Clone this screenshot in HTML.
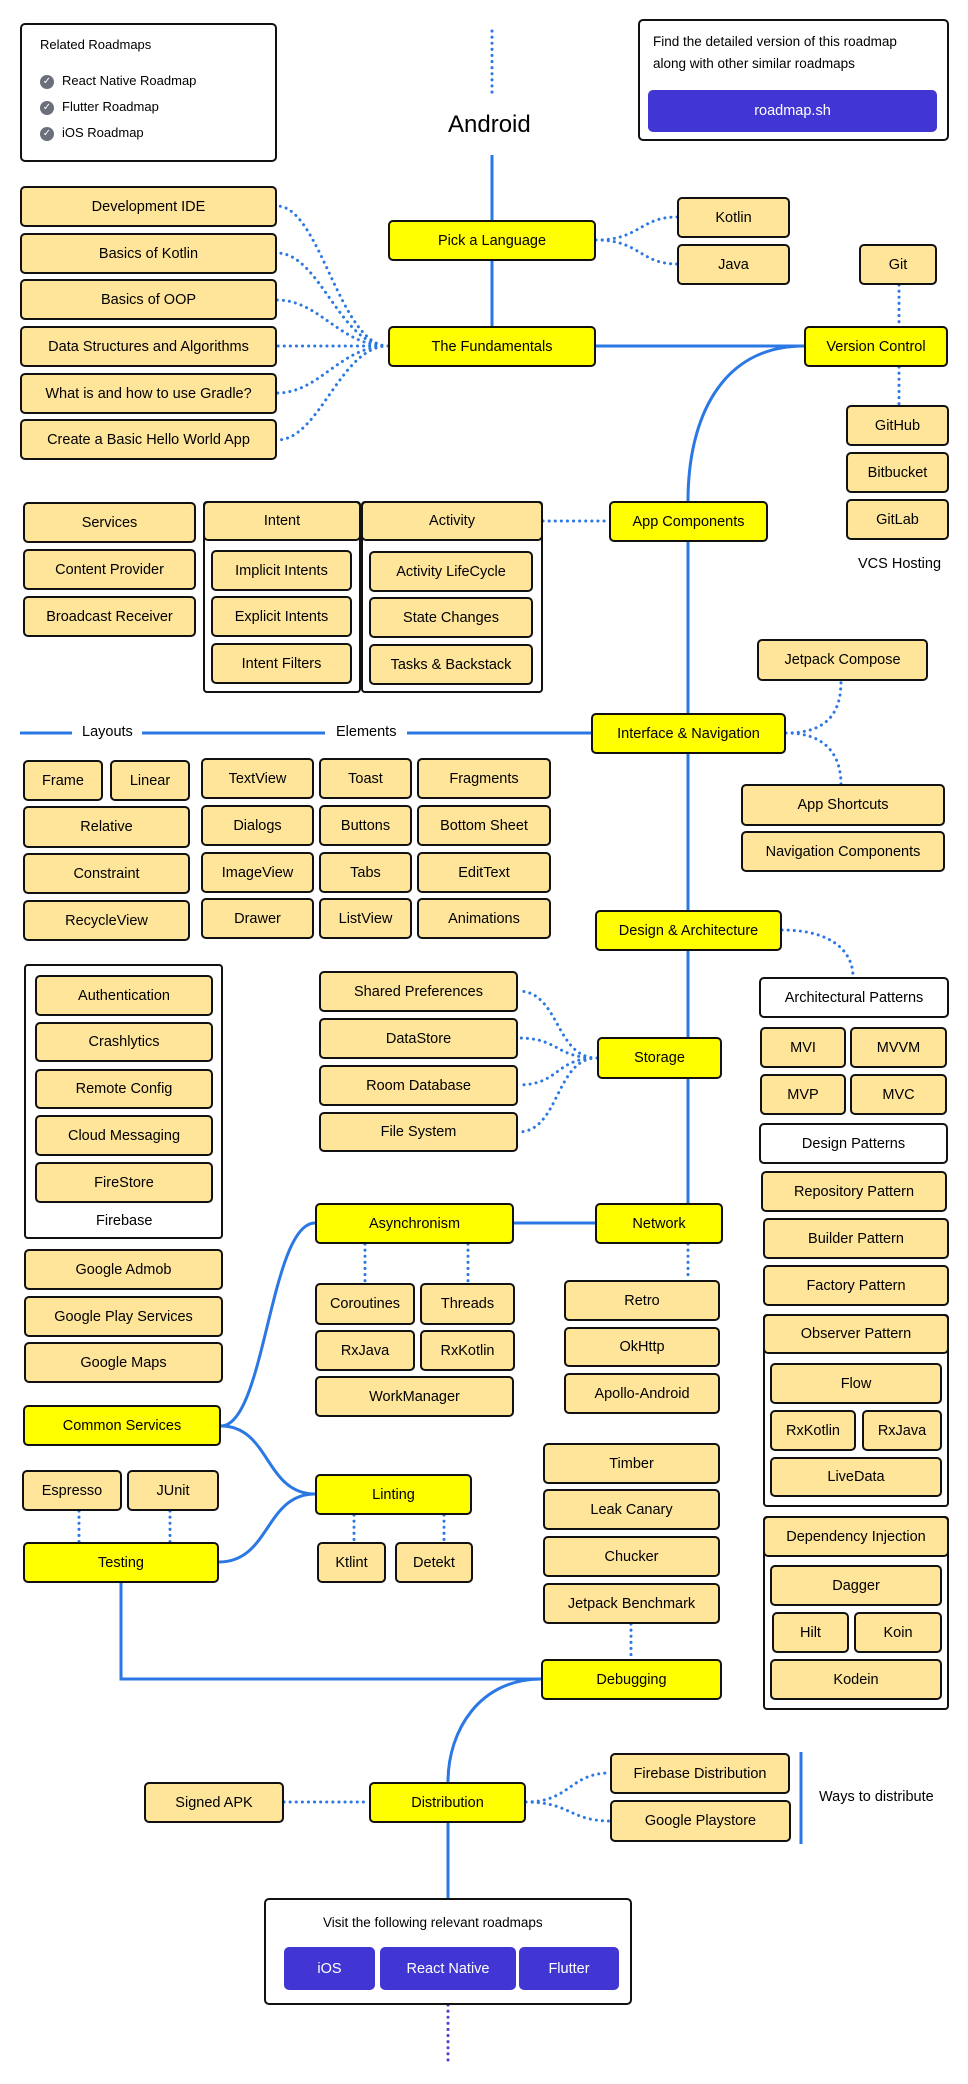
<!DOCTYPE html>
<html><head><meta charset="utf-8"><style>
body{margin:0;width:968px;height:2084px;position:relative;background:#fff;font-family:"Liberation Sans",sans-serif;overflow:hidden}
.b,.y,.w,.g{position:absolute;box-sizing:border-box;border:2px solid #111;border-radius:5px;display:flex;align-items:center;justify-content:center;font-size:14.5px;color:#000;text-align:center}
.b{background:#ffe599}.y{background:#ffff00}.w{background:#fff}
.g{background:transparent;border-radius:4px}
.t{position:absolute;font-size:14.5px;color:#000;white-space:nowrap}
.p{position:absolute;box-sizing:border-box;background:#4136d4;color:#fff;border-radius:5px;display:flex;align-items:center;justify-content:center;font-size:14.5px}
svg{position:absolute;left:0;top:0}
.ck{display:inline-block;width:14px;height:14px;border-radius:50%;background:#6b6f7a;color:#fff;font-size:10px;line-height:14px;text-align:center;vertical-align:middle;margin-right:8px}
</style></head><body>
<svg width="968" height="2084" fill="none">
<g stroke="#2b78e4" stroke-width="3">
<path d="M492 155V220M492 261V326M596 346H804M804 346C720 346 688 420 688 501M688 542V713M688 754V910M688 951V1037M688 1079V1203M20 733H72M142 733H325M407 733H591M514 1223H595M315 1223C270 1223 265 1426 221 1426M221 1426C270 1426 265 1494 315 1494M219 1562C270 1562 265 1494 315 1494M121 1583V1679H541M541 1679C480 1679 448 1730 448 1782M448 1823V1898M801 1752V1844"/>
</g>
<g stroke="#2b78e4" stroke-width="3" stroke-dasharray="0.1 6" stroke-linecap="round">
<path d="M492 31V96M388 346C340 346 320 206 277 206M388 346C340 346 320 253 277 253M388 346C340 346 320 300 277 300M388 346H277M388 346C340 346 320 393 277 393M388 346C340 346 320 440 277 440M596 240C640 240 640 217 677 217M596 240C640 240 640 264 677 264M543 521H609M899 285V326M899 367V405M786 733C830 733 841 710 841 681M786 733C830 733 841 760 841 784M782 930C830 930 853 950 853 977M597 1058C555 1058 560 991 518 991M597 1058C555 1058 560 1038 518 1038M597 1058C555 1058 560 1085 518 1085M597 1058C555 1058 560 1132 518 1132M365 1244V1283M468 1244V1283M688 1244V1280M79 1511V1542M170 1511V1542M354 1515V1542M444 1515V1542M631 1624V1659M284 1802H369M526 1802C570 1802 570 1773 610 1773M526 1802C570 1802 570 1821 610 1821"/>
</g>
<path d="M448 2005V2061" stroke="#4a3fd6" stroke-width="3" stroke-dasharray="0.1 6" stroke-linecap="round"/>
</svg>

<div class="w" style="left:20px;top:23px;width:257px;height:139px;display:block"></div>
<div class="t" style="left:40px;top:37px;font-size:13px">Related Roadmaps</div>
<div class="t" style="left:40px;top:73px;font-size:13px"><span class="ck">✓</span>React Native Roadmap</div>
<div class="t" style="left:40px;top:99px;font-size:13px"><span class="ck">✓</span>Flutter Roadmap</div>
<div class="t" style="left:40px;top:125px;font-size:13px"><span class="ck">✓</span>iOS Roadmap</div>

<div class="t" style="left:448px;top:111px;font-size:24px">Android</div>

<div class="w" style="left:638px;top:19px;width:311px;height:122px;display:block"></div>
<div class="t" style="left:653px;top:34px;font-size:13.5px">Find the detailed version of this roadmap</div>
<div class="t" style="left:653px;top:56px;font-size:13.5px">along with other similar roadmaps</div>
<div class="p" style="left:648px;top:90px;width:289px;height:42px">roadmap.sh</div>

<div class="b" style="left:20px;top:186px;width:257px;height:41px">Development IDE</div>
<div class="b" style="left:20px;top:233px;width:257px;height:41px">Basics of Kotlin</div>
<div class="b" style="left:20px;top:279px;width:257px;height:41px">Basics of OOP</div>
<div class="b" style="left:20px;top:326px;width:257px;height:41px">Data Structures and Algorithms</div>
<div class="b" style="left:20px;top:373px;width:257px;height:41px">What is and how to use Gradle?</div>
<div class="b" style="left:20px;top:419px;width:257px;height:41px">Create a Basic Hello World App</div>

<div class="y" style="left:388px;top:220px;width:208px;height:41px">Pick a Language</div>
<div class="y" style="left:388px;top:326px;width:208px;height:41px">The Fundamentals</div>
<div class="b" style="left:677px;top:197px;width:113px;height:41px">Kotlin</div>
<div class="b" style="left:677px;top:244px;width:113px;height:41px">Java</div>
<div class="b" style="left:859px;top:244px;width:78px;height:41px">Git</div>
<div class="y" style="left:804px;top:326px;width:144px;height:41px">Version Control</div>
<div class="b" style="left:846px;top:405px;width:103px;height:41px">GitHub</div>
<div class="b" style="left:846px;top:452px;width:103px;height:41px">Bitbucket</div>
<div class="b" style="left:846px;top:499px;width:103px;height:41px">GitLab</div>
<div class="t" style="left:858px;top:556px">VCS Hosting</div>

<div class="y" style="left:609px;top:501px;width:159px;height:41px">App Components</div>
<div class="b" style="left:23px;top:502px;width:173px;height:41px">Services</div>
<div class="b" style="left:23px;top:549px;width:173px;height:41px">Content Provider</div>
<div class="b" style="left:23px;top:596px;width:173px;height:41px">Broadcast Receiver</div>
<div class="g" style="left:203px;top:501px;width:158px;height:192px"></div>
<div class="b" style="left:203px;top:501px;width:158px;height:40px">Intent</div>
<div class="b" style="left:211px;top:550px;width:141px;height:41px">Implicit Intents</div>
<div class="b" style="left:211px;top:596px;width:141px;height:41px">Explicit Intents</div>
<div class="b" style="left:211px;top:643px;width:141px;height:41px">Intent Filters</div>
<div class="g" style="left:361px;top:501px;width:182px;height:192px"></div>
<div class="b" style="left:361px;top:501px;width:182px;height:40px">Activity</div>
<div class="b" style="left:369px;top:551px;width:164px;height:41px">Activity LifeCycle</div>
<div class="b" style="left:369px;top:597px;width:164px;height:41px">State Changes</div>
<div class="b" style="left:369px;top:644px;width:164px;height:41px">Tasks &amp; Backstack</div>
<div class="b" style="left:757px;top:639px;width:171px;height:42px">Jetpack Compose</div>

<div class="t" style="left:82px;top:724px">Layouts</div>
<div class="t" style="left:336px;top:724px">Elements</div>
<div class="y" style="left:591px;top:713px;width:195px;height:41px">Interface &amp; Navigation</div>
<div class="b" style="left:741px;top:784px;width:204px;height:42px">App Shortcuts</div>
<div class="b" style="left:741px;top:831px;width:204px;height:41px">Navigation Components</div>

<div class="b" style="left:23px;top:760px;width:80px;height:41px">Frame</div>
<div class="b" style="left:110px;top:760px;width:80px;height:41px">Linear</div>
<div class="b" style="left:23px;top:806px;width:167px;height:42px">Relative</div>
<div class="b" style="left:23px;top:853px;width:167px;height:41px">Constraint</div>
<div class="b" style="left:23px;top:900px;width:167px;height:41px">RecycleView</div>

<div class="b" style="left:201px;top:758px;width:113px;height:41px">TextView</div>
<div class="b" style="left:319px;top:758px;width:93px;height:41px">Toast</div>
<div class="b" style="left:417px;top:758px;width:134px;height:41px">Fragments</div>
<div class="b" style="left:201px;top:805px;width:113px;height:41px">Dialogs</div>
<div class="b" style="left:319px;top:805px;width:93px;height:41px">Buttons</div>
<div class="b" style="left:417px;top:805px;width:134px;height:41px">Bottom Sheet</div>
<div class="b" style="left:201px;top:852px;width:113px;height:41px">ImageView</div>
<div class="b" style="left:319px;top:852px;width:93px;height:41px">Tabs</div>
<div class="b" style="left:417px;top:852px;width:134px;height:41px">EditText</div>
<div class="b" style="left:201px;top:898px;width:113px;height:41px">Drawer</div>
<div class="b" style="left:319px;top:898px;width:93px;height:41px">ListView</div>
<div class="b" style="left:417px;top:898px;width:134px;height:41px">Animations</div>

<div class="y" style="left:595px;top:910px;width:187px;height:41px">Design &amp; Architecture</div>
<div class="w" style="left:759px;top:977px;width:190px;height:41px">Architectural Patterns</div>
<div class="b" style="left:760px;top:1027px;width:86px;height:41px">MVI</div>
<div class="b" style="left:850px;top:1027px;width:97px;height:41px">MVVM</div>
<div class="b" style="left:760px;top:1074px;width:86px;height:41px">MVP</div>
<div class="b" style="left:850px;top:1074px;width:97px;height:41px">MVC</div>
<div class="w" style="left:759px;top:1123px;width:189px;height:41px">Design Patterns</div>
<div class="b" style="left:761px;top:1171px;width:186px;height:41px">Repository Pattern</div>
<div class="b" style="left:763px;top:1218px;width:186px;height:41px">Builder Pattern</div>
<div class="b" style="left:763px;top:1265px;width:186px;height:41px">Factory Pattern</div>
<div class="g" style="left:763px;top:1314px;width:186px;height:193px"></div>
<div class="b" style="left:763px;top:1314px;width:186px;height:40px">Observer Pattern</div>
<div class="b" style="left:770px;top:1363px;width:172px;height:41px">Flow</div>
<div class="b" style="left:770px;top:1410px;width:86px;height:41px">RxKotlin</div>
<div class="b" style="left:862px;top:1410px;width:80px;height:41px">RxJava</div>
<div class="b" style="left:770px;top:1457px;width:172px;height:40px">LiveData</div>
<div class="g" style="left:763px;top:1516px;width:186px;height:194px"></div>
<div class="b" style="left:763px;top:1516px;width:186px;height:41px">Dependency Injection</div>
<div class="b" style="left:770px;top:1565px;width:172px;height:41px">Dagger</div>
<div class="b" style="left:772px;top:1612px;width:77px;height:41px">Hilt</div>
<div class="b" style="left:854px;top:1612px;width:88px;height:41px">Koin</div>
<div class="b" style="left:770px;top:1659px;width:172px;height:41px">Kodein</div>

<div class="g" style="left:24px;top:964px;width:199px;height:275px"></div>
<div class="b" style="left:35px;top:975px;width:178px;height:41px">Authentication</div>
<div class="b" style="left:35px;top:1022px;width:178px;height:40px">Crashlytics</div>
<div class="b" style="left:35px;top:1069px;width:178px;height:40px">Remote Config</div>
<div class="b" style="left:35px;top:1115px;width:178px;height:41px">Cloud Messaging</div>
<div class="b" style="left:35px;top:1162px;width:178px;height:41px">FireStore</div>
<div class="t" style="left:96px;top:1213px">Firebase</div>
<div class="b" style="left:24px;top:1249px;width:199px;height:41px">Google Admob</div>
<div class="b" style="left:24px;top:1296px;width:199px;height:41px">Google Play Services</div>
<div class="b" style="left:24px;top:1342px;width:199px;height:41px">Google Maps</div>

<div class="b" style="left:319px;top:971px;width:199px;height:41px">Shared Preferences</div>
<div class="b" style="left:319px;top:1018px;width:199px;height:41px">DataStore</div>
<div class="b" style="left:319px;top:1065px;width:199px;height:41px">Room Database</div>
<div class="b" style="left:319px;top:1112px;width:199px;height:40px">File System</div>
<div class="y" style="left:597px;top:1037px;width:125px;height:42px">Storage</div>

<div class="y" style="left:315px;top:1203px;width:199px;height:41px">Asynchronism</div>
<div class="y" style="left:595px;top:1203px;width:128px;height:41px">Network</div>
<div class="b" style="left:315px;top:1283px;width:100px;height:42px">Coroutines</div>
<div class="b" style="left:420px;top:1283px;width:95px;height:42px">Threads</div>
<div class="b" style="left:315px;top:1330px;width:100px;height:41px">RxJava</div>
<div class="b" style="left:420px;top:1330px;width:95px;height:41px">RxKotlin</div>
<div class="b" style="left:315px;top:1376px;width:199px;height:41px">WorkManager</div>
<div class="b" style="left:564px;top:1280px;width:156px;height:41px">Retro</div>
<div class="b" style="left:564px;top:1327px;width:156px;height:40px">OkHttp</div>
<div class="b" style="left:564px;top:1373px;width:156px;height:41px">Apollo-Android</div>

<div class="y" style="left:23px;top:1405px;width:198px;height:41px">Common Services</div>
<div class="b" style="left:22px;top:1470px;width:100px;height:41px">Espresso</div>
<div class="b" style="left:127px;top:1470px;width:92px;height:41px">JUnit</div>
<div class="y" style="left:23px;top:1542px;width:196px;height:41px">Testing</div>
<div class="y" style="left:315px;top:1474px;width:157px;height:41px">Linting</div>
<div class="b" style="left:317px;top:1542px;width:69px;height:41px">Ktlint</div>
<div class="b" style="left:395px;top:1542px;width:78px;height:41px">Detekt</div>

<div class="b" style="left:543px;top:1443px;width:177px;height:41px">Timber</div>
<div class="b" style="left:543px;top:1489px;width:177px;height:41px">Leak Canary</div>
<div class="b" style="left:543px;top:1536px;width:177px;height:41px">Chucker</div>
<div class="b" style="left:543px;top:1583px;width:177px;height:41px">Jetpack Benchmark</div>
<div class="y" style="left:541px;top:1659px;width:181px;height:41px">Debugging</div>

<div class="b" style="left:144px;top:1782px;width:140px;height:41px">Signed APK</div>
<div class="y" style="left:369px;top:1782px;width:157px;height:41px">Distribution</div>
<div class="b" style="left:610px;top:1753px;width:180px;height:41px">Firebase Distribution</div>
<div class="b" style="left:610px;top:1800px;width:181px;height:42px">Google Playstore</div>
<div class="t" style="left:819px;top:1789px">Ways to distribute</div>

<div class="w" style="left:264px;top:1898px;width:368px;height:107px;display:block"></div>
<div class="t" style="left:323px;top:1915px;font-size:13.5px">Visit the following relevant roadmaps</div>
<div class="p" style="left:284px;top:1947px;width:91px;height:43px">iOS</div>
<div class="p" style="left:380px;top:1947px;width:136px;height:43px">React Native</div>
<div class="p" style="left:519px;top:1947px;width:100px;height:43px">Flutter</div>
</body></html>
